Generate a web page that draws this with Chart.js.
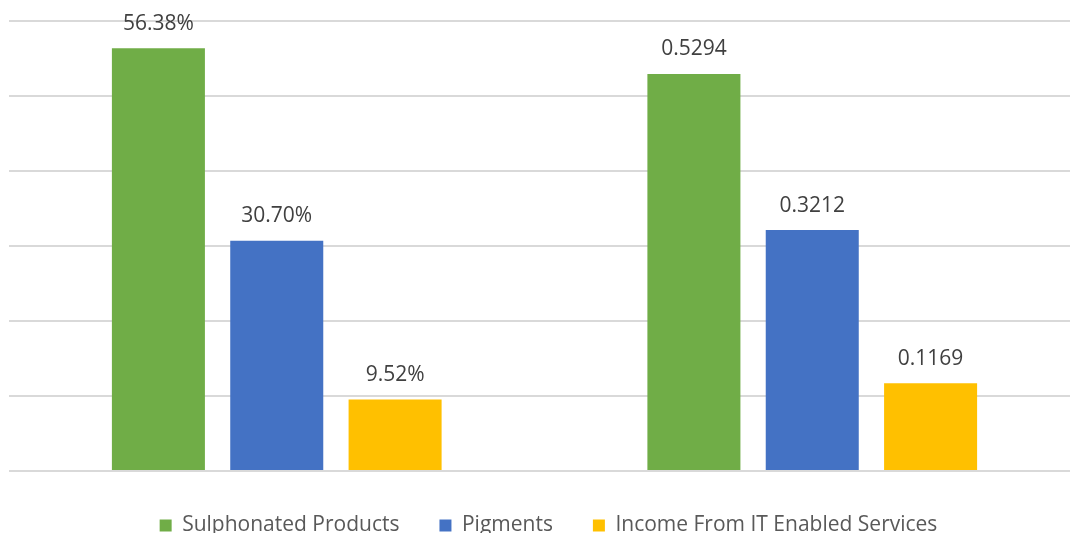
<!DOCTYPE html>
<html>
<head>
<meta charset="utf-8">
<script src="https://cdn.jsdelivr.net/npm/chart.js@4/dist/chart.umd.min.js"></script>
<style>
  html, body { margin: 0; padding: 0; background: #fff; overflow: hidden; }
  #wrap { width: 1080px; height: 550px; }
</style>
</head>
<body>
<div id="wrap"><canvas id="shareChart"></canvas></div>
<script>
const categories = ['Year 1', 'Year 2'];
const sulphonated = [0.5638, 0.5294];
const pigments = [0.3070, 0.3212];
const itServices = [0.0952, 0.1169];
const yTicks = [0, 0.1, 0.2, 0.3, 0.4, 0.5, 0.6];

// first group is shown as percent, second as plain fraction
function fmt(v, idx) {
  return idx === 0 ? (v * 100).toFixed(2) + '%' : v.toFixed(4);
}

const valueLabels = {
  id: 'valueLabels',
  afterDatasetsDraw(chart) {
    const ctx = chart.ctx;
    ctx.save();
    ctx.font = '21px "Open Sans"';
    ctx.fillStyle = '#404040';
    ctx.textAlign = 'center';
    ctx.textBaseline = 'bottom';
    chart.data.datasets.forEach((ds, i) => {
      chart.getDatasetMeta(i).data.forEach((bar, j) => {
        ctx.fillText(fmt(ds.data[j], j), bar.x, bar.y - 14);
      });
    });
    ctx.restore();
  }
};

// pull the legend a bit closer to the plot, and slightly right
const legendNudge = {
  id: 'legendNudge',
  afterLayout(chart) {
    if (chart.legend) {
      chart.legend.top -= 4;
      chart.legend.bottom -= 4;
      chart.legend.left += 4;
      chart.legend.right += 4;
    }
  }
};

const ctx = document.getElementById('shareChart').getContext('2d');
new Chart(ctx, {
  type: 'bar',
  data: {
    labels: categories,
    datasets: [
      { label: 'Sulphonated Products', data: sulphonated, backgroundColor: '#70AD47' },
      { label: 'Pigments', data: pigments, backgroundColor: '#4472C4' },
      { label: 'Income From IT Enabled Services', data: itServices, backgroundColor: '#FFC000' }
    ]
  },
  options: {
    responsive: true,
    maintainAspectRatio: false,
    animation: false,
    categoryPercentage: 0.663,
    barPercentage: 0.786,
    layout: { padding: { left: 9, right: 0, top: 21, bottom: 0 } },
    plugins: {
      tooltip: { enabled: false },
      legend: {
        position: 'bottom',
        labels: {
          boxWidth: 12,
          boxHeight: 12,
          padding: 40,
          color: '#595959',
          font: { family: '"Open Sans"', size: 21 }
        }
      }
    },
    scales: {
      x: {
        ticks: { display: false },
        grid: { display: false },
        border: { display: false }
      },
      y: {
        min: 0,
        max: 0.6,
        afterBuildTicks(axis) { axis.ticks = yTicks.map(v => ({ value: v })); },
        ticks: { display: false },
        grid: { color: '#d9d9d9', lineWidth: 2, drawTicks: false },
        border: { display: false }
      }
    }
  },
  plugins: [valueLabels, legendNudge]
});
</script>
</body>
</html>
